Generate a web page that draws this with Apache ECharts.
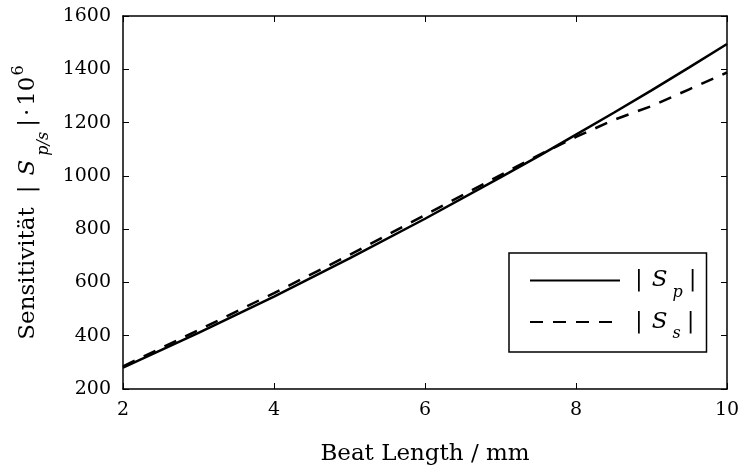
<!DOCTYPE html>
<html>
<head>
<meta charset="utf-8">
<script src="https://cdn.jsdelivr.net/npm/echarts@6/dist/echarts.min.js"></script>
<style>
  html, body { margin: 0; padding: 0; background: #fff; }
  #main { width: 743px; height: 473px; }
</style>
</head>
<body>
<div id="main"></div>
<script>
var chartDom = document.getElementById('main');
var myChart = echarts.init(chartDom);
var option;

// Beat Length / mm
const beatLength = [2, 3, 4, 5, 6, 7, 7.5, 8, 8.5, 9, 9.5, 10];
// |S_p| * 10^6 (durchgezogen)
const sensP = [280, 411, 547, 690, 839, 994, 1073, 1155, 1237, 1321, 1407, 1495];
// |S_s| * 10^6 (gestrichelt)
const sensS = [285, 421, 560, 703, 853, 1003, 1077, 1146, 1210, 1262, 1325, 1388];

const font = 'DejaVu Serif';

function pairs(xs, ys) {
    return xs.map((x, i) => [x, ys[i]]);
}

const frameLine = { lineStyle: { color: '#000', width: 1.5 } };
const innerTick = { inside: true, length: 6, lineStyle: { color: '#000', width: 1 } };

option = {
    animation: false,
    backgroundColor: '#fff',
    grid: { left: 123, right: 16, top: 16, bottom: 84, outerBoundsMode: 'none' },
    legend: {
        orient: 'vertical',
        left: 509,
        top: 253,
        padding: [16, 10, 10, 20],
        itemWidth: 90,
        itemHeight: 14,
        itemGap: 10,
        borderColor: '#000',
        borderWidth: 1.5,
        itemStyle: { opacity: 0, borderWidth: 0 },
        data: ['p', 's'],
        formatter: function (name) {
            return '{g| }{n||}{i|S}{sub|' + name + '}{b||}';
        },
        textStyle: {
            fontFamily: font,
            fontSize: 23,
            color: '#000',
            rich: {
                g: { width: 10, fontSize: 23, lineHeight: 40, fontFamily: font },
                n: { fontSize: 23, lineHeight: 40, fontFamily: font, color: '#000' },
                b: { fontSize: 23, lineHeight: 40, fontFamily: font, color: '#000', padding: [0, 0, 0, 6] },
                i: { fontSize: 23, lineHeight: 40, fontFamily: font, fontStyle: 'italic', color: '#000', padding: [0, 0, 0, 9] },
                sub: { fontSize: 16, lineHeight: 2, fontFamily: font, fontStyle: 'italic', color: '#000', verticalAlign: 'bottom', padding: [0, 0, 0, 5] }
            }
        }
    },
    xAxis: [
        {
            type: 'value',
            min: 2,
            max: 10,
            interval: 2,
            name: 'Beat Length / mm',
            nameLocation: 'middle',
            nameGap: 54,
            nameTextStyle: { fontFamily: font, fontSize: 23, color: '#000' },
            axisLine: frameLine,
            axisTick: innerTick,
            axisLabel: { fontFamily: font, fontSize: 19, color: '#000', margin: 12 },
            splitLine: { show: false }
        },
        {
            type: 'value',
            position: 'top',
            min: 2,
            max: 10,
            interval: 2,
            axisLine: frameLine,
            axisTick: innerTick,
            axisLabel: { show: false },
            splitLine: { show: false }
        }
    ],
    yAxis: [
        {
            type: 'value',
            min: 200,
            max: 1600,
            interval: 200,
            name: '{n|Sensitivität}{bar||}{i|S}{sub|p/s}{bar2||}{dot|·}{n|10}{sup|6}',
            nameLocation: 'middle',
            nameRotate: 90,
            nameGap: 70,
            nameTextStyle: {
                fontFamily: font,
                fontSize: 23,
                color: '#000',
                rich: {
                    n: { fontSize: 23, lineHeight: 48, fontFamily: font, color: '#000' },
                    bar: { fontSize: 23, lineHeight: 48, fontFamily: font, color: '#000', padding: [0, 0, 0, 14] },
                    i: { fontSize: 23, lineHeight: 48, fontFamily: font, fontStyle: 'italic', color: '#000', padding: [0, 0, 0, 10] },
                    sub: { fontSize: 16, lineHeight: 4, fontFamily: font, fontStyle: 'italic', color: '#000', verticalAlign: 'bottom', padding: [0, 0, 0, 4] },
                    bar2: { fontSize: 23, lineHeight: 48, fontFamily: font, color: '#000', padding: [0, 0, 0, 5] },
                    dot: { fontSize: 23, lineHeight: 48, fontFamily: font, color: '#000', padding: [0, 3, 0, 3] },
                    sup: { fontSize: 16, lineHeight: 16, fontFamily: font, color: '#000', verticalAlign: 'top', padding: [7, 0, 0, 1] }
                }
            },
            axisLine: frameLine,
            axisTick: innerTick,
            axisLabel: {
                fontFamily: font,
                fontSize: 19,
                color: '#000',
                margin: 12,
                formatter: function (v) { return String(v); }
            },
            splitLine: { show: false }
        },
        {
            type: 'value',
            position: 'right',
            min: 200,
            max: 1600,
            interval: 200,
            axisLine: frameLine,
            axisTick: innerTick,
            axisLabel: { show: false },
            splitLine: { show: false }
        }
    ],
    series: [
        {
            name: 'p',
            type: 'line',
            symbol: 'none',
            data: pairs(beatLength, sensP),
            lineStyle: { color: '#000', width: 2.5, type: 'solid' },
            itemStyle: { color: '#000' }
        },
        {
            name: 's',
            type: 'line',
            symbol: 'none',
            data: pairs(beatLength, sensS),
            lineStyle: { color: '#000', width: 2.5, type: [13, 10] },
            itemStyle: { color: '#000' }
        }
    ]
};

option && myChart.setOption(option);

window.addEventListener('resize', function () {
    myChart.resize();
});
</script>
</body>
</html>
